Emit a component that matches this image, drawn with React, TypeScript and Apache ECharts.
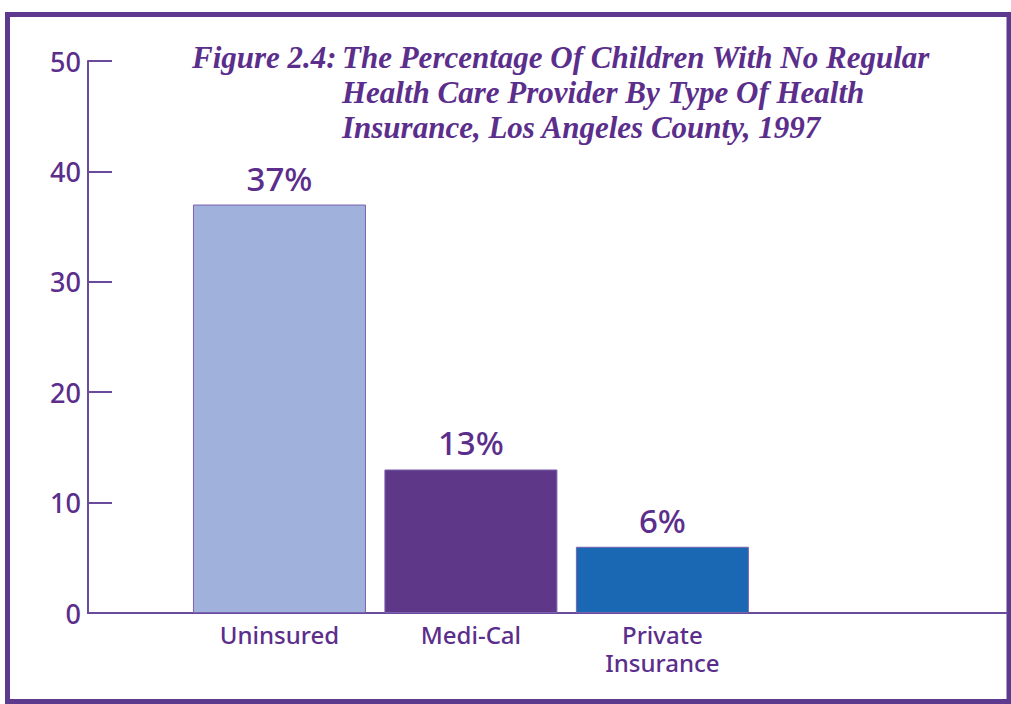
import React, { useEffect, useRef } from "react";
import * as echarts from "echarts";

const categories = ["Uninsured", "Medi-Cal", "Private\nInsurance"];
const values = [37, 13, 6];
const barColors = ["#A0B1DC", "#5E3789", "#1A67B4"];
const yTicks = [0, 10, 20, 30, 40, 50];
const titleLead = "Figure 2.4:";
const titleLines = [
  "The Percentage Of Children With No Regular",
  "Health Care Provider By Type Of Health",
  "Insurance, Los Angeles County, 1997",
];

const PURPLE = "#5B2E8C";

export default function App() {
  const ref = useRef<HTMLDivElement>(null);
  useEffect(() => {
    document.body.style.margin = "0";
    const chart = echarts.init(ref.current!, null, { renderer: "svg" });
    const labelFont = "'Noto Sans', sans-serif";
    const titleStyle = {
      fontFamily: "'Liberation Serif', serif",
      fontStyle: "italic",
      fontWeight: "bold",
      fontSize: 31,
      color: PURPLE,
      lineHeight: 35,
    };
    chart.setOption({
      animation: false,
      backgroundColor: "#ffffff",
      title: [
        { text: titleLead, left: 187, top: 35, textStyle: titleStyle },
        { text: titleLines.join("\n"), left: 337, top: 35, textStyle: titleStyle },
      ],
      graphic: [
        {
          type: "rect",
          shape: { x: 7.5, y: 14.5, width: 1001.5, height: 687 },
          style: { fill: "none", stroke: "#5E3A8E", lineWidth: 5 },
          silent: true,
        },
      ],
      grid: { left: 88, right: 4, top: 61, bottom: 91 },
      xAxis: {
        type: "value",
        min: 0,
        max: 4.8,
        interval: 1,
        splitLine: { show: false },
        axisTick: { show: false },
        axisLine: { show: true, lineStyle: { color: "#6A4A9C", width: 2 } },
        axisLabel: {
          showMaxLabel: false,
          showMinLabel: true,
          margin: 7,
          fontFamily: labelFont,
          fontSize: 24,
          fontWeight: 500,
          lineHeight: 28,
          color: PURPLE,
          formatter: (v: number) => categories[v - 1] ?? "",
        },
      },
      yAxis: {
        type: "value",
        min: 0,
        max: 50,
        interval: 10,
        splitLine: { show: false },
        axisLine: { show: true, lineStyle: { color: "#6A4A9C", width: 2 } },
        axisTick: {
          show: true,
          inside: true,
          length: 24,
          lineStyle: { color: "#6A4A9C", width: 2 },
        },
        axisLabel: {
          margin: 7,
          fontFamily: labelFont,
          fontSize: 27,
          fontWeight: 500,
          color: PURPLE,
          formatter: (v: number) => (yTicks.includes(v) ? String(v) : ""),
        },
      },
      series: [
        {
          type: "bar",
          barWidth: 173,
          data: values.map((v, i) => ({
            value: [i + 1, v],
            itemStyle: { color: barColors[i], borderColor: "#7B62AE", borderWidth: 1 },
          })),
          label: {
            show: true,
            position: "top",
            distance: 10,
            fontFamily: labelFont,
            fontSize: 33,
            fontWeight: 500,
            color: PURPLE,
            formatter: (p: any) => `${p.value[1]}%`,
          },
        },
      ],
    });
    return () => chart.dispose();
  }, []);
  return <div ref={ref} style={{ width: 1011, height: 704 }} />;
}
